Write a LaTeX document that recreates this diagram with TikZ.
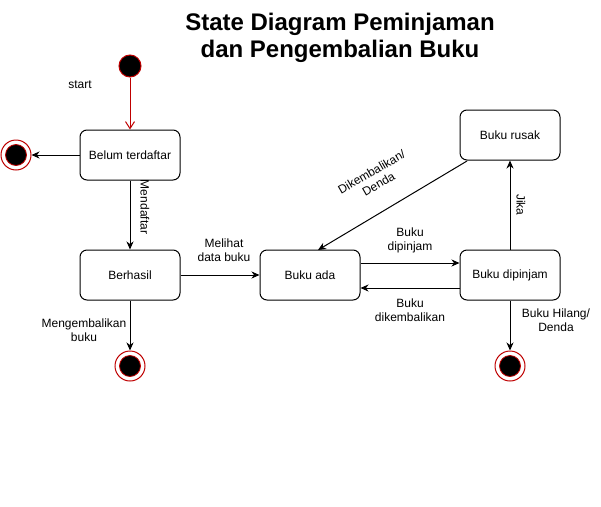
\documentclass[tikz,border=0pt]{standalone}
\usepackage{fontspec}
\setmainfont{Liberation Sans}
\usetikzlibrary{arrows.meta}
\begin{document}
\begin{tikzpicture}[x=1pt,y=-1pt,
  state/.style={draw,line width=1pt,rounded corners=7pt,minimum width=100pt,minimum height=50pt,inner sep=0pt,font=\fontsize{12}{14}\selectfont},
  lbl/.style={font=\fontsize{12}{14}\selectfont,align=center,inner sep=1pt},
  conn/.style={line width=1pt,-{Stealth[length=8pt,width=7pt,inset=2.5pt]}},
  startst/.style={circle,fill=black,draw=red!75!black,line width=1pt,minimum size=22pt,inner sep=0pt},
  endouter/.style={circle,fill=white,draw=red!75!black,line width=1pt,minimum size=30pt,inner sep=0pt},
  endinner/.style={circle,fill=black,draw=red!75!black,line width=0.8pt,minimum size=21pt,inner sep=0pt}]
\useasboundingbox (0,0) rectangle (601,506);
\fill[white] (0,0) rectangle (601,506);
\node[font=\bfseries\fontsize{24}{27}\selectfont,align=center] (title) at (340,38) {State Diagram Peminjaman\\dan Pengembalian Buku};

\node[startst] (start) at (130,66) {};
\node[lbl] (startlbl) at (80,85) {start};

\node[state] (belum) at (130,155) {Belum terdaftar};
\node[state] (berhasil) at (130,275) {Berhasil};
\node[state] (ada) at (310,275) {Buku ada};
\node[state] (dipinjam) at (510,275) {Buku dipinjam};
\node[state] (rusak) at (510,135) {Buku rusak};

\node[endouter] (end1) at (16,155) {};
\node[endinner] (end1i) at (end1) {};
\node[endouter] (end2) at (130,366) {};
\node[endinner] (end2i) at (end2) {};
\node[endouter] (end3) at (510,366) {};
\node[endinner] (end3i) at (end3) {};

\draw[line width=1pt,red!75!black,-{Straight Barb[length=7pt,width=9pt]}] (start) -- (belum);
\draw[conn] (belum) -- (end1);
\draw[conn] (belum) -- (berhasil);
\node[lbl,rotate=-90] (mlbl) at (145,207) {Mendaftar};
\draw[conn] (berhasil) -- (ada);
\node[lbl] (melihat) at (224,250) {Melihat\\data buku};
\draw[conn] (berhasil) -- (end2);
\node[lbl] (mengemb) at (84,330) {Mengembalikan\\buku};
\draw[conn] (ada.east |- 0,263) -- (dipinjam.west |- 0,263);
\node[lbl] (bdip) at (410,240) {Buku\\dipinjam};
\draw[conn] (dipinjam.west |- 0,288) -- (ada.east |- 0,288);
\node[lbl] (bdik) at (410,310) {Buku\\dikembalikan};
\draw[conn] (dipinjam) -- (rusak);
\node[lbl,rotate=-90] (jika) at (521,205) {Jika};
\coordinate (rs) at (467,161);
\coordinate (ae) at (318,250);
\draw[conn] (rs) -- (ae);
\node[lbl,rotate=30] (dik) at (375,178) {Dikembalikan/\\Denda};
\draw[conn] (dipinjam) -- (end3);
\node[lbl] (hilang) at (556,320) {Buku Hilang/\\Denda};
\end{tikzpicture}
\end{document}
